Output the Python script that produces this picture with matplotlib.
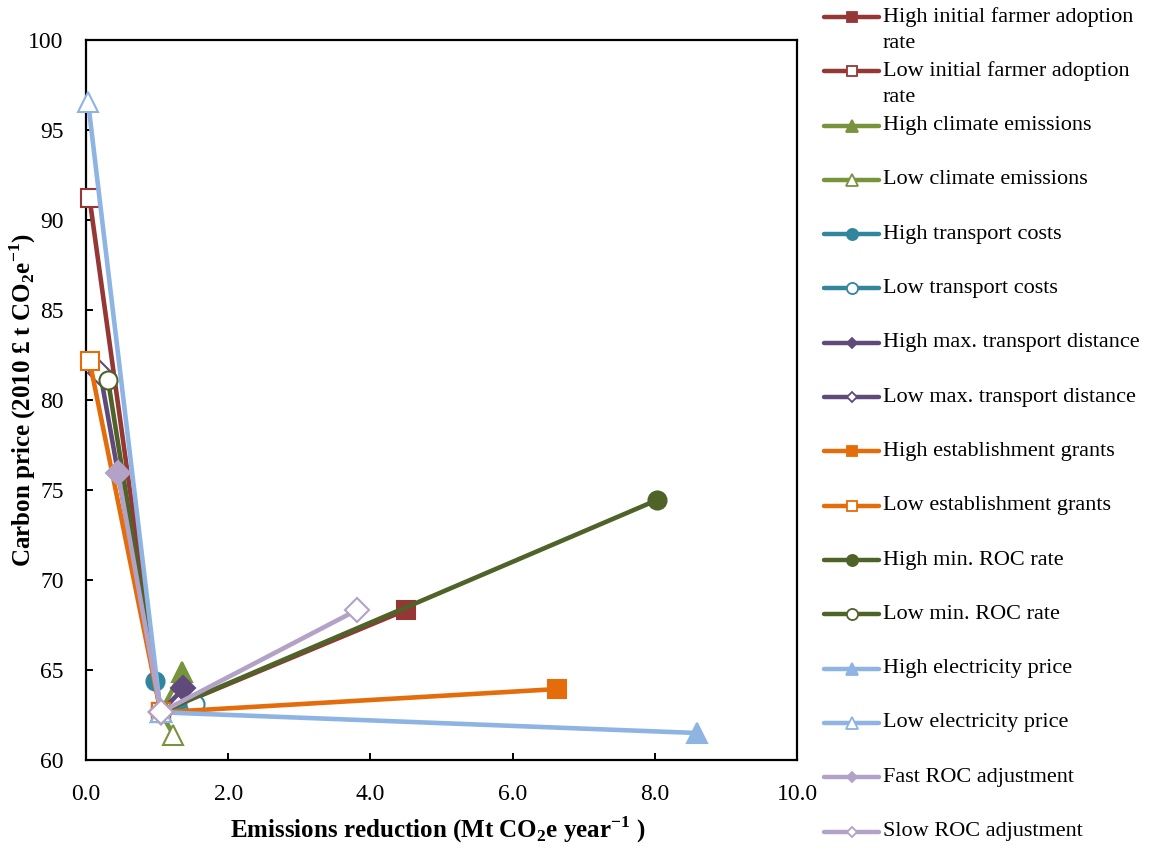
import numpy as np
import matplotlib.pyplot as plt
from matplotlib.lines import Line2D

plt.rcParams['font.family'] = ['Liberation Serif', 'DejaVu Serif']
plt.rcParams['mathtext.fontset'] = 'custom'
plt.rcParams['mathtext.rm'] = 'Liberation Serif'
plt.rcParams['mathtext.bf'] = 'Liberation Serif:bold'

# scenario names, in legend order
labels = ["High initial farmer adoption\nrate", "Low initial farmer adoption\nrate",
          "High climate emissions", "Low climate emissions",
          "High transport costs", "Low transport costs",
          "High max. transport distance", "Low max. transport distance",
          "High establishment grants", "Low establishment grants",
          "High min. ROC rate", "Low min. ROC rate",
          "High electricity price", "Low electricity price",
          "Fast ROC adjustment", "Slow ROC adjustment"]

# baseline run (shared by all series)
base_x = 1.05
base_y = 62.65

# emissions reduction (Mt CO2e/yr) and carbon price for each scenario
scen_x = [4.50, 0.05, 1.35, 1.23, 0.97, 1.53, 1.37, 0.20,
          6.62, 0.05, 8.03, 0.31, 8.59, 0.03, 0.45, 3.81]
scen_y = [68.33, 91.2, 64.9, 61.4, 64.4, 63.1, 63.98, 81.5,
          63.94, 82.17, 74.44, 81.1, 61.5, 96.53, 75.93, 68.33]

colors = ["#953735", "#953735", "#77933C", "#77933C", "#31859C", "#31859C",
          "#604A7B", "#604A7B", "#E46C0A", "#E46C0A", "#4F6228", "#4F6228",
          "#8EB4E3", "#8EB4E3", "#B3A2C7", "#B3A2C7"]
markers = ["s", "s", "^", "^", "o", "o", "D", "D",
           "s", "s", "o", "o", "^", "^", "D", "D"]
msizes = {"s": 13.5, "^": 15, "o": 13, "D": 12.5}
lmsizes = {"s": 7.5, "^": 8, "o": 8, "D": 5.5}

fig = plt.figure(figsize=(11.51, 8.55), dpi=100)
ax = fig.add_axes([86/1151, 1 - 760/855, (797-86)/1151, (760-40)/855])

for i in range(len(labels)):
    filled = (i % 2 == 0)
    m = markers[i]
    ax.plot([scen_x[i], base_x], [scen_y[i], base_y], color=colors[i], lw=3.3,
             marker=m, markersize=msizes[m],
             markerfacecolor=colors[i] if filled else "white",
             markeredgecolor=colors[i], markeredgewidth=1.5, zorder=3 + i,
             clip_on=False)

ax.set_xlim(0, 10)
ax.set_ylim(60, 100)
ax.set_xticks(np.arange(0, 10.1, 2))
ax.set_xticklabels(["%.1f" % v for v in np.arange(0, 10.1, 2)])
ax.set_yticks(np.arange(60, 101, 5))
for s in ax.spines.values():
    s.set_linewidth(1.6)
ax.tick_params(direction="in", length=5, width=1.4, labelsize=17)
ax.tick_params(axis="y", pad=16)
ax.tick_params(axis="x", pad=17)

ax.set_xlabel(r"Emissions reduction (Mt CO$_\mathbf{2}$e year$^{\mathbf{-1}}$ )",
              fontsize=18, fontweight="bold")
ax.xaxis.set_label_coords(0.495, -0.075)
ax.set_ylabel(r"Carbon price (2010 £ t CO$_\mathbf{2}$e$^{\mathbf{-1}}$)",
              fontsize=18, fontweight="bold")
ax.yaxis.set_label_coords(-0.068, 0.5)

# legend, drawn by hand so the wrapped entries keep Excel's even spacing
W, H = 1151.0, 855.0
for i, lab in enumerate(labels):
    yy = 17 + 54.3 * i
    filled = (i % 2 == 0)
    m = markers[i]
    fig.add_artist(Line2D([824/W, 879/W], [1 - yy/H, 1 - yy/H], color=colors[i], lw=3.2,
                          solid_capstyle="round"))
    fig.add_artist(Line2D([852/W], [1 - yy/H], marker=m, markersize=lmsizes[m],
                          markerfacecolor=colors[i] if filled else "white",
                          markeredgecolor=colors[i], markeredgewidth=1.3, lw=0))
    for k, line in enumerate(lab.split("\n")):
        fig.text(883/W, 1 - (yy + 26*k)/H, line, fontsize=16, va="center", ha="left")

fig.savefig("out.png", dpi=100)
